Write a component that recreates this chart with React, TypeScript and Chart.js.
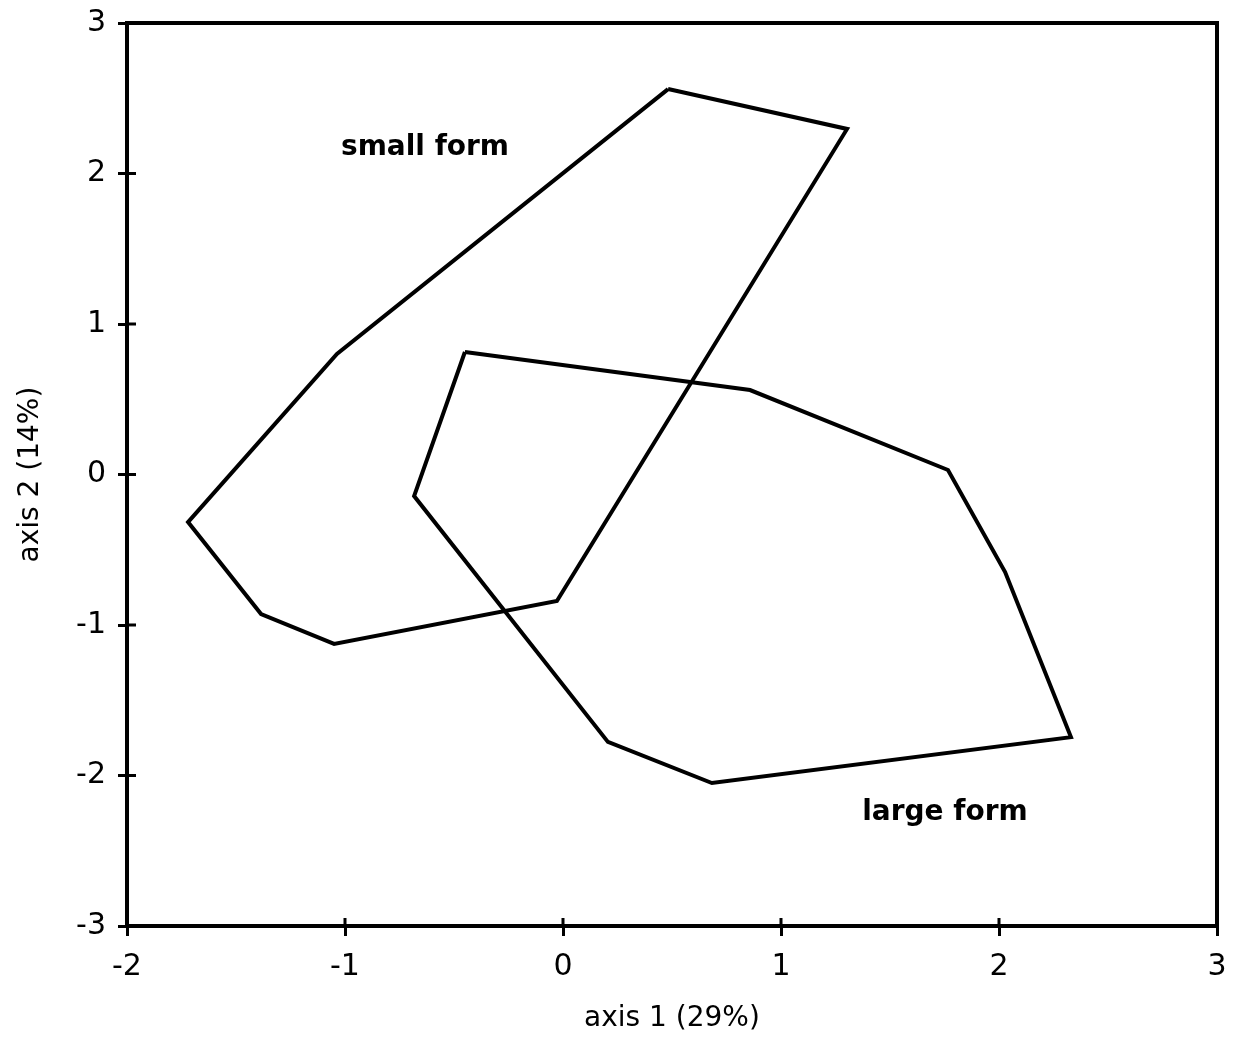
import React, { useEffect, useRef } from 'react';
import { Chart, registerables } from 'chart.js';

Chart.register(...registerables);

// Polygon vertices (ordination hulls)
const smallFormX = [0.482, 1.303, -0.028, -1.05, -1.385, -1.72, -1.037];
const smallFormY = [2.561, 2.296, -0.841, -1.126, -0.927, -0.316, 0.801];
const largeFormX = [-0.45, 0.858, 1.766, 2.028, 2.33, 0.683, 0.206, -0.683];
const largeFormY = [0.814, 0.561, 0.03, -0.648, -1.745, -2.05, -1.777, -0.143];

// Group labels
const groupNames = ['small form', 'large form'];
const groupLabelX = [-0.633, 1.752];
const groupLabelY = [2.169, -2.249];

// Axes
const xTickValues = [-2, -1, 0, 1, 2, 3];
const yTickValues = [-3, -2, -1, 0, 1, 2, 3];
const xTitle = 'axis 1 (29%)';
const yTitle = 'axis 2 (14%)';

const FONT = '"DejaVu Sans", sans-serif';

const framePlugin = {
  id: 'frame',
  afterDatasetsDraw(chart: any) {
    const { ctx, chartArea, scales } = chart;
    const { left, right, top, bottom } = chartArea;
    ctx.save();
    ctx.strokeStyle = '#000';
    ctx.lineWidth = 4;
    ctx.lineJoin = 'miter';
    ctx.strokeRect(left, top, right - left, bottom - top);
    ctx.lineWidth = 3;
    ctx.beginPath();
    xTickValues.forEach((v) => {
      const px = scales.x.getPixelForValue(v);
      ctx.moveTo(px, bottom);
      ctx.lineTo(px, bottom - 8);
    });
    yTickValues.forEach((v) => {
      const py = scales.y.getPixelForValue(v);
      ctx.moveTo(left, py);
      ctx.lineTo(left + 9, py);
    });
    ctx.stroke();
    ctx.fillStyle = '#000';
    ctx.font = 'bold 28px ' + FONT;
    ctx.textAlign = 'center';
    ctx.textBaseline = 'middle';
    groupNames.forEach((name, i) => {
      ctx.fillText(
        name,
        scales.x.getPixelForValue(groupLabelX[i]),
        scales.y.getPixelForValue(groupLabelY[i])
      );
    });
    ctx.restore();
  },
};

function closed(xs: number[], ys: number[]) {
  const pts = xs.map((x, i) => ({ x, y: ys[i] }));
  pts.push(pts[0]);
  return pts;
}

export default function App() {
  const ref = useRef<HTMLCanvasElement>(null);

  useEffect(() => {
    if (!ref.current) return;
    const lineStyle = {
      showLine: true,
      borderColor: '#000',
      backgroundColor: '#000',
      borderWidth: 4,
      pointRadius: 0,
      fill: false,
      tension: 0,
      borderJoinStyle: 'miter' as const,
    };
    const chart = new Chart(ref.current, {
      type: 'scatter',
      data: {
        datasets: [
          { label: groupNames[0], data: closed(smallFormX, smallFormY), ...lineStyle },
          { label: groupNames[1], data: closed(largeFormX, largeFormY), ...lineStyle },
        ],
      },
      options: {
        responsive: false,
        animation: false,
        layout: { padding: { top: 15, right: 14, bottom: 0, left: 0 }, autoPadding: false },
        plugins: {
          legend: { display: false },
          tooltip: { enabled: false },
        },
        scales: {
          x: {
            type: 'linear',
            position: 'bottom',
            min: -2,
            max: 3,
            afterBuildTicks: (s: any) => {
              s.ticks = xTickValues.map((v) => ({ value: v }));
            },
            ticks: {
              font: { family: FONT, size: 30, lineHeight: 1 },
              color: '#000',
              padding: 16,
              callback: (v: any) => String(v),
            },
            grid: {
              display: true,
              drawOnChartArea: false,
              drawTicks: true,
              tickLength: 10,
              color: '#000',
              lineWidth: 3,
            },
            border: { display: true, color: '#000', width: 4 },
            title: {
              display: true,
              text: xTitle,
              color: '#000',
              font: { family: FONT, size: 28, lineHeight: 1 },
              padding: { top: 0, bottom: 0 },
            },
            afterFit: (s: any) => {
              s.height = 107;
              s.paddingLeft = 0;
              s.paddingRight = 0;
            },
          },
          y: {
            type: 'linear',
            position: 'left',
            min: -3,
            max: 3,
            afterBuildTicks: (s: any) => {
              s.ticks = yTickValues.map((v) => ({ value: v }));
            },
            ticks: {
              font: { family: FONT, size: 30, lineHeight: 1 },
              color: '#000',
              padding: 12,
              callback: (v: any) => String(v),
            },
            grid: {
              display: true,
              drawOnChartArea: false,
              drawTicks: true,
              tickLength: 9,
              color: '#000',
              lineWidth: 3,
            },
            border: { display: true, color: '#000', width: 4 },
            title: {
              display: true,
              text: yTitle,
              color: '#000',
              font: { family: FONT, size: 28, lineHeight: 1 },
              padding: { top: 9, bottom: 0 },
            },
            afterFit: (s: any) => {
              s.width = 119;
              s.paddingTop = 0;
              s.paddingBottom = 0;
            },
          },
        },
      },
      plugins: [framePlugin],
    });
    return () => chart.destroy();
  }, []);

  return (
    <div>
      <canvas
        ref={ref}
        width={1223}
        height={1025}
        style={{ display: 'block', width: 1223, height: 1025 }}
      />
    </div>
  );
}
